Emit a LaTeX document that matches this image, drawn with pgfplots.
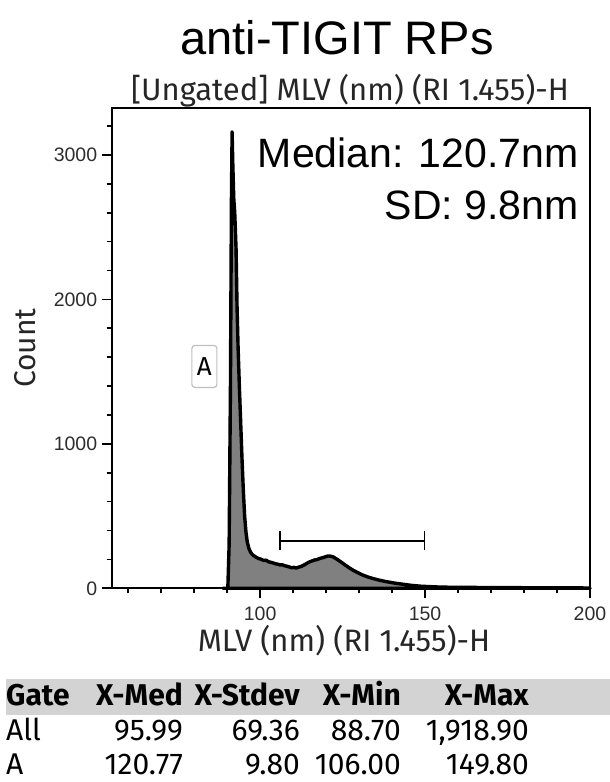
\documentclass[border=0pt]{standalone}
\usepackage{pgfplots}
\pgfplotsset{compat=1.18}
\usepackage{fontspec}
\setmainfont{Liberation Sans}
\newfontfamily\fira{Fira Sans}
\definecolor{histfill}{RGB}{128,128,128}
\definecolor{bandgray}{RGB}{211,211,211}
\definecolor{ticktext}{RGB}{45,45,45}

\pgfplotstableread{
x count
88.7 0
90.2 0
90.6 300
91.0 1400
91.3 2700
91.5 3160
91.7 2950
92.0 2700
92.3 2600
92.7 2350
93.0 1950
93.3 1680
93.7 1400
94.1 1150
94.5 900
94.9 680
95.3 500
95.7 390
96.1 320
96.6 275
97.1 250
97.7 232
98.3 222
99.0 212
99.7 205
100.4 200
101.1 192
101.8 195
102.5 184
103.2 180
103.9 176
104.6 170
105.3 167
106.0 162
106.7 163
107.4 156
108.1 153
108.8 148
109.5 142
110.2 145
110.9 140
111.6 146
112.3 150
113.0 158
113.7 166
114.4 176
115.1 184
115.8 190
116.5 196
117.2 198
117.9 205
118.6 210
119.3 214
120.0 220
120.7 224
121.4 222
122.1 218
122.8 208
123.5 198
124.2 187
124.9 176
125.6 164
126.3 153
127.0 142
127.7 132
128.4 122
129.1 114
129.8 106
130.5 98
131.2 91
132.0 84
133.0 76
134.0 69
135.0 63
136.0 57
137.0 52
138.0 47
139.0 43
140.0 39
141.0 35
142.0 32
143.0 29
144.0 26
145.0 23
146.0 20
147.0 18
148.0 16
149.0 14
150.0 13
152.0 11
154.0 9
156.0 8
158.0 7
160.0 7
165.0 6
170.0 5
175.0 5
180.0 4
185.0 4
190.0 3
195.0 3
200.0 2
}\histdata

\begin{document}
\begin{tikzpicture}[x=1pt,y=1pt]
\useasboundingbox (0,0) rectangle (610,782);

% header band of the stats table
\fill[bandgray] (6,67) rectangle (610,103);

\begin{axis}[
    at={(111.7pt,193.7pt)}, anchor=south west,
    scale only axis,
    width=478.3pt, height=480.3pt,
    xmin=55, xmax=200,
    ymin=0, ymax=3325,
    xtick={100,150,200},
    minor xtick={60,70,80,90,110,120,130,140,160,170,180,190},
    ytick={0,1000,2000,3000},
    minor ytick={200,400,600,800,1200,1400,1600,1800,2200,2400,2600,2800,3200},
    xtick pos=lower, ytick pos=left,
    tick align=outside,
    major tick length=10pt, minor tick length=5pt,
    tick style={black, line width=1.6pt},
    axis line style={black, line width=1.8pt},
    ticklabel style={font=\fontsize{19.5}{19.5}\selectfont, text=ticktext},
    /pgf/number format/assume math mode=true,
    /pgf/number format/set thousands separator={},
    yticklabel style={xshift=-1pt},
    xticklabel style={yshift=-5pt},
    clip=false,
]
\addplot[fill=histfill, draw=black, line width=3.4pt, line join=round]
    table[x=x, y=count] {\histdata} \closedcycle;

% gate A
\addplot[black, line width=1.8pt] coordinates {(106,330) (149.8,330)};
\addplot[black, line width=1.8pt] coordinates {(106,265) (106,400)};
\addplot[black, line width=1.8pt] coordinates {(149.8,265) (149.8,400)};
\node[draw=gray!50, rounded corners=3pt, line width=1.2pt, fill=white,
      minimum width=25pt, minimum height=42pt, inner sep=0pt,
      font=\fira\fontsize{26}{26}\selectfont] at (axis cs:83.1,1536) {A};
\end{axis}

% titles and labels
\node[anchor=base, font=\fontsize{47}{47}\selectfont] at (337,727) {anti-TIGIT RPs};
\node[anchor=base, font=\fira\fontsize{31}{31}\selectfont, text=black!85] at (350,681) {[Ungated] MLV (nm) (RI 1.455)-H};
\node[anchor=base, font=\fira\fontsize{31}{31}\selectfont, text=black!85] at (344,130) {MLV (nm) (RI 1.455)-H};
\node[rotate=90, font=\fira\fontsize{30}{30}\selectfont, text=black!85] at (25,434) {Count};
\node[anchor=base east, font=\fontsize{41}{41}\selectfont] at (582,614) {Median: 120.7nm};
\node[anchor=base east, font=\fontsize{41}{41}\selectfont] at (582,562) {SD: 9.8nm};

% stats table
\begin{scope}[every node/.style={inner sep=0pt, font=\fira\fontsize{30}{30}\selectfont}]
\node[anchor=base west, font=\fira\bfseries\fontsize{30}{30}\selectfont] at (6,76) {Gate};
\node[anchor=base east, font=\fira\bfseries\fontsize{30}{30}\selectfont] at (183,76) {X-Med};
\node[anchor=base east, font=\fira\bfseries\fontsize{30}{30}\selectfont] at (300,76) {X-Stdev};
\node[anchor=base east, font=\fira\bfseries\fontsize{30}{30}\selectfont] at (401,76) {X-Min};
\node[anchor=base east, font=\fira\bfseries\fontsize{30}{30}\selectfont] at (529,76) {X-Max};
\node[anchor=base west] at (6,41) {All};
\node[anchor=base east] at (183,41) {95.99};
\node[anchor=base east] at (300,41) {69.36};
\node[anchor=base east] at (401,41) {88.70};
\node[anchor=base east] at (529,41) {1,918.90};
\node[anchor=base west] at (6,8) {A};
\node[anchor=base east] at (183,8) {120.77};
\node[anchor=base east] at (300,8) {9.80};
\node[anchor=base east] at (401,8) {106.00};
\node[anchor=base east] at (529,8) {149.80};
\end{scope}
\end{tikzpicture}
\end{document}
